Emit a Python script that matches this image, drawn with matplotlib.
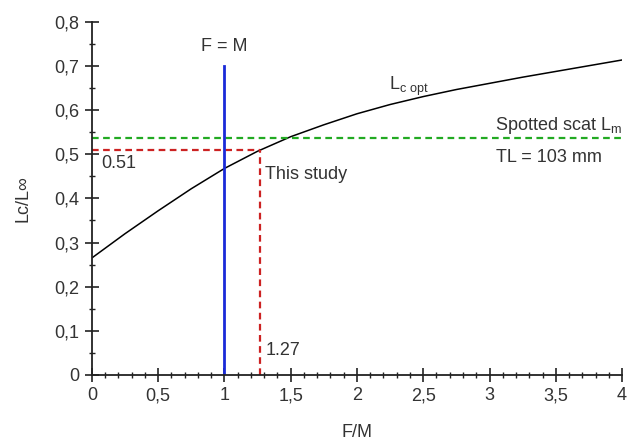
import matplotlib
matplotlib.use("Agg")
import matplotlib.pyplot as plt
from matplotlib.ticker import MultipleLocator, FuncFormatter

plt.rcParams['font.family'] = ['Liberation Sans', 'DejaVu Sans']

# Data
fm = [0.0, 0.25, 0.5, 0.75, 1.0, 1.25, 1.5, 1.75, 2.0, 2.25, 2.5, 2.75, 3.0, 3.25, 3.5, 3.75, 4.0]
lc_opt = [0.265, 0.32, 0.372, 0.422, 0.468, 0.507, 0.540, 0.567, 0.592, 0.613, 0.631, 0.647, 0.661, 0.675, 0.688, 0.701, 0.714]
fm_equal = 1.0
fm_top = 0.7
this_study_fm = 1.27
this_study_lc = 0.51
lm_ratio = 0.537

txt = '#333333'
fs = 13
fig = plt.figure(figsize=(6.29, 4.41), dpi=100)
ax = fig.add_axes([0.146, 0.150, 0.843, 0.800])

ax.plot(fm, lc_opt, color='black', lw=1.1)
ax.plot([0, 4], [lm_ratio, lm_ratio], color='#22aa22', lw=1.6, ls=(0, (3, 2)))
ax.plot([0, this_study_fm], [this_study_lc, this_study_lc], color='#cc2222', lw=1.6, ls=(0, (3, 2)))
ax.plot([this_study_fm, this_study_fm], [0, this_study_lc], color='#cc2222', lw=1.6, ls=(0, (3, 2)))
ax.plot([fm_equal, fm_equal], [0, fm_top], color='#1a2ad8', lw=2)

ax.set_xlim(0, 4)
ax.set_ylim(0, 0.8)
for s in ['top', 'right']:
    ax.spines[s].set_visible(False)
for s in ['left', 'bottom']:
    ax.spines[s].set_linewidth(1.3)
    ax.spines[s].set_color('#222222')

ax.xaxis.set_major_locator(MultipleLocator(0.5))
ax.xaxis.set_minor_locator(MultipleLocator(0.1))
ax.yaxis.set_major_locator(MultipleLocator(0.1))
ax.yaxis.set_minor_locator(MultipleLocator(0.05))

fmt = FuncFormatter(lambda v, p: ('%g' % round(v, 2)).replace('.', ','))
ax.xaxis.set_major_formatter(fmt)
ax.yaxis.set_major_formatter(fmt)

ax.tick_params(which='major', direction='inout', length=10, width=1.2, colors='#222222',
               labelsize=fs, labelcolor=txt, pad=4)
ax.tick_params(which='minor', direction='inout', length=5, width=1.0, colors='#222222')

ax.set_xlabel('F/M', fontsize=fs, color=txt, labelpad=14)
ax.set_ylabel('Lc/L\u221e', fontsize=fs, color=txt, labelpad=16)

ax.text(fm_equal, 0.745, 'F = M', ha='center', va='center', fontsize=fs, color=txt)
ax.text(0.07, 0.48, '0.51', ha='left', va='center', fontsize=fs, color=txt)
ax.text(1.31, 0.455, 'This study', ha='left', va='center', fontsize=fs, color=txt)
ax.text(1.31, 0.055, '1.27', ha='left', va='center', fontsize=fs, color=txt)
ax.text(2.24, 0.655, r'L$_{\mathregular{c\ opt}}$', ha='left', va='center', fontsize=fs, color=txt)
ax.text(4.0, 0.566, r'Spotted scat L$_{\mathregular{m}}$', ha='right', va='center', fontsize=fs, color=txt)
ax.text(3.05, 0.492, 'TL = 103 mm', ha='left', va='center', fontsize=fs, color=txt)

fig.savefig('out.png', dpi=100)
